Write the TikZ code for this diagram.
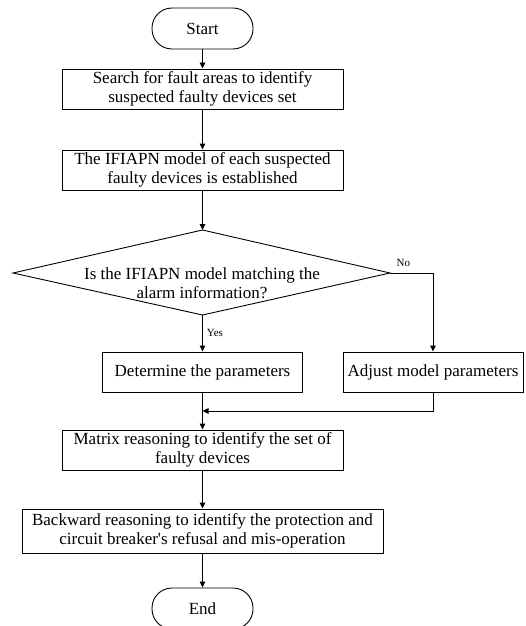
\documentclass[tikz,border=0pt]{standalone}
\usepackage{fontspec}
\setmainfont{Liberation Serif}[Ligatures=TeXOff]
\usetikzlibrary{arrows.meta}

\begin{document}
\begin{tikzpicture}[x=1pt, y=-1pt, >={Triangle[length=6pt, width=5.5pt]}, line width=0.9pt,
    every node/.style={font=\fontsize{17}{19.5}\selectfont},
    box/.style={draw, rectangle, align=center, minimum height=40pt, inner sep=0pt},
    term/.style={draw, rounded corners=20pt, minimum width=101pt, minimum height=41pt, inner sep=0pt},
    lbl/.style={font=\fontsize{11}{13}\selectfont, inner sep=1pt}]

    \useasboundingbox (0,0) rectangle (525,626);

    \node[term] (start) at (202.5,28.5) {Start};
    \node[box, minimum width=281pt] (search) at (202.5,89) {Search for fault areas to identify\\suspected faulty devices set};
    \node[box, minimum width=281pt] (model) at (202.5,170) {The IFIAPN model of each suspected\\faulty devices is established};

    % decision
    \coordinate (dl) at (13,273);
    \coordinate (dt) at (202.5,230);
    \coordinate (dr) at (390,273);
    \coordinate (db) at (202.5,315);
    \draw (dl) -- (dt) -- (dr) -- (db) -- cycle;
    \node[align=center, inner sep=0pt] (match) at (202,283) {Is the IFIAPN model matching the\\alarm information?};

    \node[box, minimum width=200pt] (determine) at (202.5,372) {Determine the parameters};
    \node[box, minimum width=180pt] (adjust) at (433,372) {Adjust model parameters};
    \coordinate (join) at (202.5,411);

    \node[box, minimum width=281pt] (matrix) at (202.5,450) {Matrix reasoning to identify the set of\\faulty devices};
    \node[box, minimum width=361pt, minimum height=44pt] (backward) at (202.5,531) {Backward reasoning to identify the protection and\\circuit breaker's refusal and mis-operation};
    \node[term] (end) at (202.5,608.5) {End};

    \draw[->] (start) -- (search);
    \draw[->] (search) -- (model);
    \draw[->] (model) -- (dt);
    \draw[->] (db) -- node[lbl, right, xshift=3pt, pos=0.48] {Yes} (determine);
    \draw[->] (dr) -- node[lbl, above=5pt, pos=0.31] {No} (dr -| adjust) -- (adjust);
    \draw[->] (adjust) |- (join);
    \draw[->] (determine) -- (matrix);
    \draw[->] (matrix) -- (backward);
    \draw[->] (backward) -- (end);

\end{tikzpicture}
\end{document}
